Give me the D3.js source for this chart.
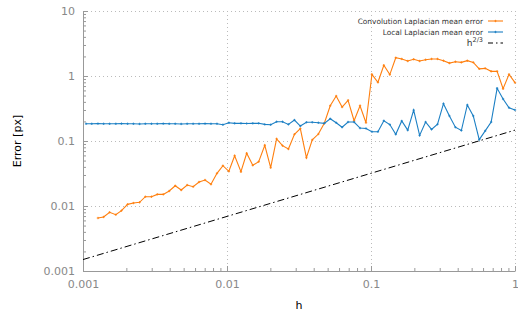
<!DOCTYPE html>
<html>
<head>
<meta charset="utf-8">
<script src="https://cdn.jsdelivr.net/npm/d3@7"></script>
<style>
  body { margin: 0; background: #fff; }
  svg { font-family: "DejaVu Sans", sans-serif; }
</style>
</head>
<body>
<div id="chart"></div>
<script>
// step size h (log spaced), shared by both series
const hValues = [0.00105, 0.00115, 0.00127, 0.00139, 0.00153, 0.00169, 0.00185, 0.00204, 0.00224, 0.00247,
  0.00271, 0.00299, 0.00328, 0.00361, 0.00397, 0.00437, 0.00481, 0.00529, 0.00582, 0.00640,
  0.00704, 0.00774, 0.00852, 0.00937, 0.0103, 0.0113, 0.0125, 0.0137, 0.0151, 0.0166,
  0.0183, 0.0201, 0.0221, 0.0243, 0.0267, 0.0294, 0.0323, 0.0356, 0.0391, 0.0431,
  0.0474, 0.0521, 0.0573, 0.0630, 0.0693, 0.0763, 0.0839, 0.0923, 0.1015, 0.1117,
  0.1228, 0.1351, 0.1486, 0.1635, 0.1799, 0.1978, 0.2176, 0.2394, 0.2633, 0.2897,
  0.3186, 0.3505, 0.3855, 0.4241, 0.4665, 0.5132, 0.5645, 0.6209, 0.6830, 0.7513,
  0.8264, 0.9091, 1];

// convolution laplacian starts at the 3rd h value
const convH = hValues.slice(2);
const convError = [0.00653, 0.00678, 0.0080, 0.00735, 0.00848, 0.0106, 0.0111, 0.0114, 0.0139, 0.0139,
  0.0151, 0.0151, 0.0170, 0.0205, 0.0176, 0.0210, 0.0198, 0.0234, 0.0251, 0.0216,
  0.0318, 0.0417, 0.0342, 0.0594, 0.0337, 0.0647, 0.0423, 0.0481, 0.0859, 0.0388,
  0.108, 0.0848, 0.0753, 0.127, 0.155, 0.0553, 0.104, 0.128, 0.188, 0.349,
  0.492, 0.333, 0.423, 0.205, 0.349, 0.191, 1.06, 0.80, 1.46, 1.05,
  1.91, 1.83, 1.70, 1.81, 1.70, 1.78, 1.83, 1.83, 1.72, 1.58,
  1.66, 1.62, 1.72, 1.62, 1.29, 1.31, 1.18, 1.18, 0.638, 1.06, 0.789];

const localError = [0.184, 0.184, 0.185, 0.184, 0.184, 0.184, 0.185, 0.184, 0.184, 0.183,
  0.184, 0.184, 0.184, 0.185, 0.184, 0.184, 0.183, 0.184, 0.184, 0.184,
  0.185, 0.184, 0.184, 0.178, 0.191, 0.187, 0.187, 0.186, 0.187, 0.187,
  0.180, 0.178, 0.198, 0.198, 0.180, 0.210, 0.170, 0.194, 0.194, 0.191,
  0.187, 0.220, 0.191, 0.163, 0.196, 0.196, 0.158, 0.156, 0.139, 0.139,
  0.205, 0.179, 0.127, 0.203, 0.147, 0.298, 0.122, 0.196, 0.151, 0.181,
  0.375, 0.243, 0.163, 0.145, 0.358, 0.243, 0.105, 0.143, 0.196, 0.647,
  0.443, 0.325, 0.300];

// h^(2/3) reference line end points
const refH = [0.001, 1];
const refError = [0.0015, 0.147];

const xTicks = [0.001, 0.01, 0.1, 1];
const xTickLabels = ["0.001", "0.01", "0.1", "1"];
const yTicks = [0.001, 0.01, 0.1, 1, 10];
const yTickLabels = ["0.001", "0.01", "0.1", "1", "10"];

const width = 518, height = 315;
const plotLeft = 83, plotRight = 515, plotTop = 11, plotBottom = 271;

const svg = d3.select("#chart").append("svg")
    .attr("width", width)
    .attr("height", height);

const x = d3.scaleLog().domain([0.001, 1]).range([plotLeft, plotRight]);
const y = d3.scaleLog().domain([0.001, 10]).range([plotBottom, plotTop]);

const minor = (lo, hi) => {
  const out = [];
  for (let d = lo; d < hi * 0.99; d *= 10)
    for (let m = 2; m <= 9; m++) out.push(d * m);
  return out;
};

// grid
const grid = svg.append("g")
    .attr("stroke", "#bbb")
    .attr("stroke-width", 1)
    .attr("stroke-dasharray", "1,3");
grid.selectAll(".gx").data(xTicks.slice(1)).enter().append("line")
    .attr("x1", d => Math.round(x(d)) + 0.5).attr("x2", d => Math.round(x(d)) + 0.5)
    .attr("y1", plotTop).attr("y2", plotBottom);
grid.selectAll(".gy").data(yTicks.slice(1)).enter().append("line")
    .attr("y1", d => Math.round(y(d)) + 0.5).attr("y2", d => Math.round(y(d)) + 0.5)
    .attr("x1", plotLeft).attr("x2", plotRight);

// axes
svg.append("g")
    .attr("transform", "translate(0," + plotBottom + ")")
    .call(d3.axisBottom(x).tickValues(xTicks).tickFormat((d, i) => xTickLabels[i])
        .tickSizeInner(-5).tickSizeOuter(0).tickPadding(9));
svg.append("g")
    .attr("transform", "translate(0," + plotBottom + ")")
    .call(d3.axisBottom(x).tickValues(minor(0.001, 1)).tickFormat("")
        .tickSizeInner(-3).tickSizeOuter(0))
    .select(".domain").remove();

svg.append("g")
    .attr("transform", "translate(" + plotLeft + ",0)")
    .call(d3.axisLeft(y).tickValues(yTicks).tickFormat((d, i) => yTickLabels[i])
        .tickSizeInner(-5).tickSizeOuter(0).tickPadding(8));
svg.append("g")
    .attr("transform", "translate(" + plotLeft + ",0)")
    .call(d3.axisLeft(y).tickValues(minor(0.001, 10)).tickFormat("")
        .tickSizeInner(-3).tickSizeOuter(0))
    .select(".domain").remove();

svg.selectAll(".domain, .tick line").attr("stroke", "#999");
svg.selectAll(".tick text").attr("fill", "#888").style("font-size", "11px")
    .style("font-family", "DejaVu Sans, sans-serif");

// axis titles
svg.append("text")
    .attr("x", 299).attr("y", 309)
    .attr("text-anchor", "middle")
    .style("font-size", "11px")
    .text("h");
svg.append("text")
    .attr("transform", "translate(21,141) rotate(-90)")
    .attr("text-anchor", "middle")
    .style("font-size", "11px")
    .text("Error [px]");

const orange = "#ff7f0e", blue = "#1b7fc4";

const plot = svg.append("g");

// reference line
plot.append("path")
    .datum(refH.map((h, i) => [h, refError[i]]))
    .attr("fill", "none")
    .attr("stroke", "#000")
    .attr("stroke-width", 1)
    .attr("stroke-dasharray", "7,3,1.5,3")
    .attr("d", d3.line().x(d => x(d[0])).y(d => y(d[1])));

const drawSeries = (hs, vals, color) => {
  const pts = hs.map((h, i) => [h, vals[i]]);
  plot.append("path")
      .datum(pts)
      .attr("fill", "none")
      .attr("stroke", color)
      .attr("stroke-width", 1.1)
      .attr("d", d3.line().x(d => x(d[0])).y(d => y(d[1])));
  plot.append("g").selectAll("path").data(pts).enter().append("path")
      .attr("d", d => "M" + (x(d[0]) - 1.2) + "," + y(d[1]) + "h2.4M" + x(d[0]) + "," + (y(d[1]) - 1.2) + "v2.4")
      .attr("stroke", color)
      .attr("stroke-width", 0.8);
};

drawSeries(convH, convError, orange);
drawSeries(hValues, localError, blue);

// legend
const legend = [
  {label: "Convolution Laplacian mean error", color: orange, dash: null, marker: true},
  {label: "Local Laplacian mean error", color: blue, dash: null, marker: true},
  {label: "h", sup: "2/3", color: "#000", dash: "5,3,1.5,3", marker: false}
];
const lg = svg.append("g");
legend.forEach((d, i) => {
  const yy = 21 + i * 11;
  const t = lg.append("text")
      .attr("x", 483).attr("y", yy + 3)
      .attr("text-anchor", "end")
      .attr("fill", "#333")
      .style("font-size", "7.4px")
      .text(d.label);
  if (d.sup) {
    t.style("font-size", "9px");
    t.append("tspan").attr("dy", -4).style("font-size", "6.5px").text(d.sup);
  }
  lg.append("line")
      .attr("x1", 488).attr("x2", 503).attr("y1", yy).attr("y2", yy)
      .attr("stroke", d.color)
      .attr("stroke-width", 1.1)
      .attr("stroke-dasharray", d.dash);
  if (d.marker) {
    lg.append("path")
        .attr("d", "M494.3," + yy + "h2.4M495.5," + (yy - 1.2) + "v2.4")
        .attr("stroke", d.color)
        .attr("stroke-width", 0.8);
  }
});
</script>
</body>
</html>
